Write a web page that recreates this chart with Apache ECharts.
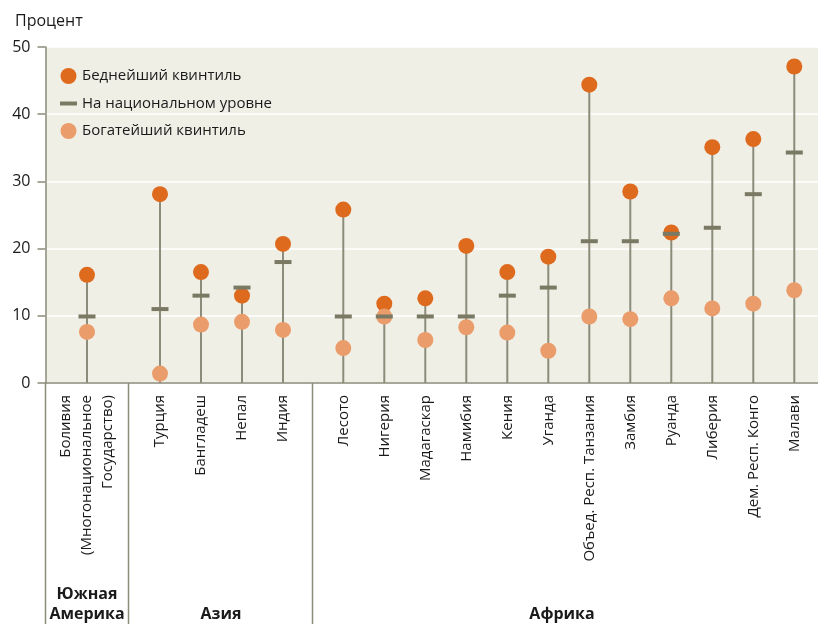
<!DOCTYPE html>
<html>
<head>
<meta charset="utf-8">
<script src="https://cdn.jsdelivr.net/npm/echarts@6/dist/echarts.min.js"></script>
<style>
html,body{margin:0;padding:0;background:#fff;}
#chart{width:818px;height:624px;}
</style>
</head>
<body>
<div id="chart"></div>
<script>
// ---- data ----
var regionNames = ['Южная\nАмерика', 'Азия', 'Африка'];
var countries = [
  'Боливия\n(Многонациональное\nГосударство)',
  'Турция', 'Бангладеш', 'Непал', 'Индия',
  'Лесото', 'Нигерия', 'Мадагаскар', 'Намибия', 'Кения', 'Уганда',
  'Объед. Респ. Танзания', 'Замбия', 'Руанда', 'Либерия', 'Дем. Респ. Конго', 'Малави'
];
var regionOf = [0, 1, 1, 1, 1, 2, 2, 2, 2, 2, 2, 2, 2, 2, 2, 2, 2];
var poorest  = [16.1, 28.1, 16.5, 13.0, 20.7, 25.8, 11.8, 12.6, 20.4, 16.5, 18.8, 44.4, 28.5, 22.4, 35.1, 36.3, 47.1];
var national = [ 9.9, 11.0, 13.0, 14.2, 18.0,  9.9,  9.9,  9.9,  9.9, 13.0, 14.2, 21.1, 21.1, 22.2, 23.1, 28.1, 34.3];
var richest  = [ 7.6,  1.4,  8.7,  9.1,  7.9,  5.2,  9.9,  6.4,  8.3,  7.5,  4.8,  9.9,  9.5, 12.6, 11.1, 11.8, 13.8];
var yTicks = [0, 10, 20, 30, 40, 50];
var seriesNames = ['Беднейший квинтиль', 'На национальном уровне', 'Богатейший квинтиль'];

// ---- layout ----
var FONT = '"Open Sans", "Noto Sans", sans-serif';
var AXIS = '#8c8c7a';
var TOP = 47, BOTTOM = 241, STEP = 41;
// left position of the first band for each region block
var blockLeft = [66.5, 139.5, 322.8];
var sepX = [45.5, 128.5, 312.5];
var labelX = [87, 221, 562];

var grids = [{left: 45.5, right: 0, top: TOP, bottom: BOTTOM, show: true, backgroundColor: '#efefe6', borderWidth: 0}];
var xAxes = [{gridIndex: 0, type: 'value', min: 0, max: 1, axisLine: {show: true, lineStyle: {color: AXIS, width: 1.5}}, axisTick: {show: false}, axisLabel: {show: false}, splitLine: {show: false}}];
var yAxes = [{
  gridIndex: 0, type: 'value', min: yTicks[0], max: yTicks[yTicks.length - 1], interval: 10,
  axisLine: {show: true, lineStyle: {color: AXIS, width: 1.5}},
  axisTick: {show: true, length: 8, lineStyle: {color: AXIS, width: 1.5}},
  axisLabel: {color: '#1a1a1a', fontSize: 16, fontFamily: FONT, margin: 15},
  splitLine: {show: true, lineStyle: {color: '#ffffff', width: 1.5}}
}];
var series = [];
var graphics = [];

for (var r = 0; r < regionNames.length; r++) {
  var idx = [];
  for (var i = 0; i < countries.length; i++) if (regionOf[i] === r) idx.push(i);
  var gi = r + 1;
  grids.push({left: blockLeft[r], width: STEP * idx.length, top: TOP, bottom: BOTTOM});
  xAxes.push({
    gridIndex: gi, type: 'category', data: idx.map(function (k) { return countries[k]; }),
    axisLine: {show: false}, axisTick: {show: false},
    axisLabel: {rotate: 90, interval: 0, margin: 12, fontSize: 15, lineHeight: 21, color: '#1a1a1a', fontFamily: FONT}
  });
  yAxes.push({gridIndex: gi, type: 'value', min: 0, max: 50, show: false, splitLine: {show: false}});
  series.push({
    type: 'bar', xAxisIndex: gi, yAxisIndex: gi, barWidth: 2, silent: true, z: 1,
    itemStyle: {color: AXIS},
    data: idx.map(function (k) { return Math.max(poorest[k], national[k], richest[k]); })
  });
  series.push({
    name: seriesNames[0], type: 'scatter', xAxisIndex: gi, yAxisIndex: gi, symbol: 'circle', symbolSize: 16, z: 3,
    itemStyle: {color: '#de6a1e', opacity: 1},
    data: idx.map(function (k) { return poorest[k]; })
  });
  series.push({
    name: seriesNames[2], type: 'scatter', xAxisIndex: gi, yAxisIndex: gi, symbol: 'circle', symbolSize: 16, z: 4,
    itemStyle: {color: '#eb9c6b', opacity: 1},
    data: idx.map(function (k) { return richest[k]; })
  });
  series.push({
    name: seriesNames[1], type: 'scatter', xAxisIndex: gi, yAxisIndex: gi, symbol: 'rect', symbolSize: [17, 4], z: 5,
    itemStyle: {color: '#7a7a64', opacity: 1},
    data: idx.map(function (k) { return national[k]; })
  });
  graphics.push({
    type: 'text', left: labelX[r], top: 584, z: 10,
    style: {text: regionNames[r], font: 'bold 16px ' + FONT, fill: '#1a1a1a', textAlign: 'center', lineHeight: 20}
  });
}
// adjust label positions: single-line ones sit lower
graphics[1].top = 604; graphics[2].top = 604;
graphics.forEach(function (g) { g.left = undefined; });
graphics[0].x = labelX[0]; graphics[1].x = labelX[1]; graphics[2].x = labelX[2];
graphics[0].y = 584; graphics[1].y = 604; graphics[2].y = 604;
graphics.forEach(function (g) { delete g.left; delete g.top; });

sepX.forEach(function (x) {
  graphics.push({type: 'line', z: 10, shape: {x1: x, y1: 383, x2: x, y2: 624}, style: {stroke: AXIS, lineWidth: 1.5}});
});

var chart = echarts.init(document.getElementById('chart'), null, {renderer: 'canvas'});
chart.setOption({
  animation: false,
  backgroundColor: '#ffffff',
  title: {text: 'Процент', left: 10, top: 8, textStyle: {fontSize: 16, fontWeight: 'normal', color: '#1a1a1a', fontFamily: FONT}},
  legend: {
    orient: 'vertical', left: 55, top: 63, itemGap: 12, itemWidth: 17, itemHeight: 16,
    textStyle: {fontSize: 15, color: '#1a1a1a', fontFamily: FONT},
    data: [
      {name: seriesNames[0], icon: 'circle'},
      {name: seriesNames[1], icon: 'path://M0,0H17V4H0Z'},
      {name: seriesNames[2], icon: 'circle'}
    ]
  },
  grid: grids,
  xAxis: xAxes,
  yAxis: yAxes,
  series: series,
  graphic: graphics
});
</script>
</body>
</html>
